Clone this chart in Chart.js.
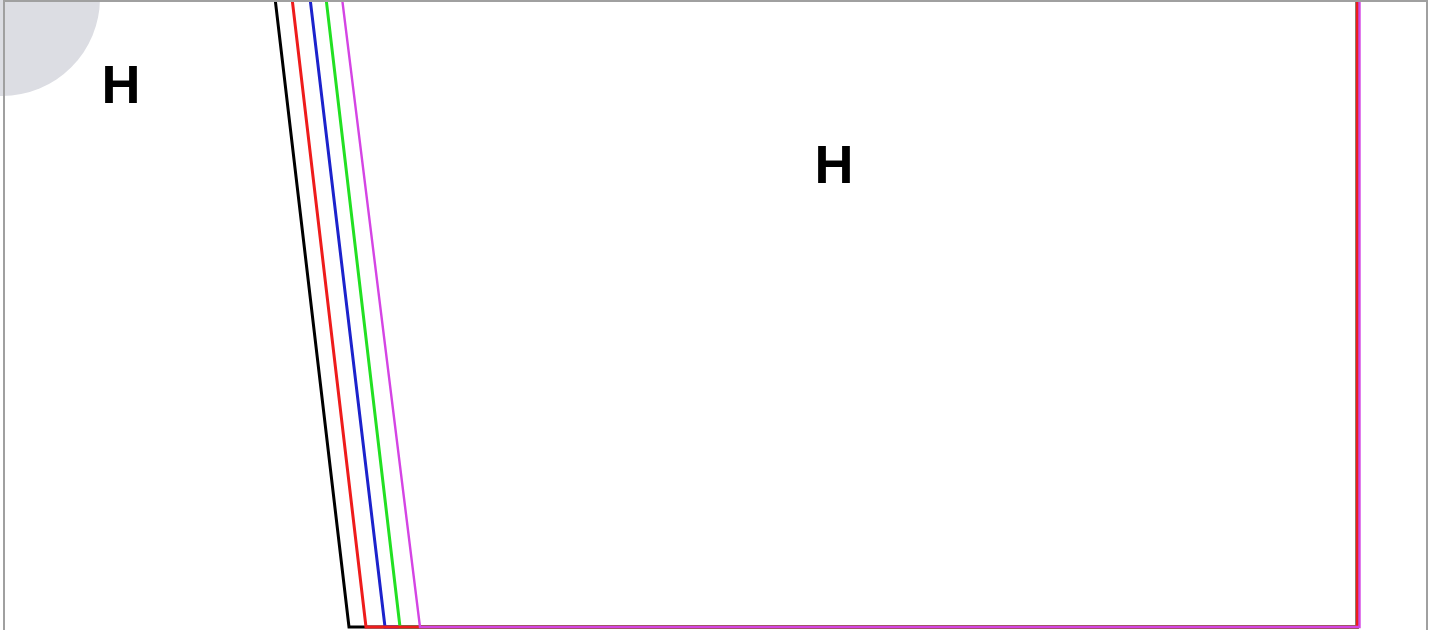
<!DOCTYPE html>
<html>
<head>
<meta charset="utf-8">
<script src="https://cdn.jsdelivr.net/npm/chart.js@4.4.0/dist/chart.umd.min.js"></script>
<style>
  html, body { margin: 0; padding: 0; background: #fff; overflow: hidden; }
  #wrap { position: absolute; left: 0; top: 0; width: 1432px; height: 630px; }
  #frame { position: absolute; left: 3px; top: 0px; width: 1425px; height: 640px;
           border: 2px solid #a0a0a0; box-sizing: border-box; pointer-events: none; z-index: 2; }
  canvas { position: absolute; left: 0; top: 0; }
</style>
</head>
<body>
<div id="wrap">
  <canvas id="c" width="1432" height="630"></canvas>
  <div id="frame"></div>
</div>
<script>
// Series names and colours
const seriesNames = ['magenta', 'red', 'green', 'blue', 'black'];
const seriesColors = ['#d444e4', '#ee1c1c', '#22e022', '#1c22cc', '#000000'];
const seriesWidths = [2.4, 3, 3, 3, 3];

// Each series: top crossing x, bottom corner x, bottom level y, right vertical x, top y
const topX    = [342, 292, 326, 310, 275];
const bottomX = [420, 366, 400, 385, 349];
const bottomY = [3, 3, 3, 3, 3];
const rightX  = [1359.5, 1357.2, 1357.2, 1357.2, 1357.2];
const topY    = [632, 632, 632, 632, 632];

// Grey disc
const discX = [2];
const discY = [632];
const discR = [98];

// Text labels
const labelText = ['H', 'H'];
const labelX = [121, 834];
const labelY = [527, 447];

const datasets = seriesNames.map((n, i) => ({
  label: n,
  type: 'line',
  data: [
    { x: topX[i], y: topY[i] },
    { x: bottomX[i], y: bottomY[i] },
    { x: rightX[i], y: bottomY[i] },
    { x: rightX[i], y: topY[i] }
  ],
  borderColor: seriesColors[i],
  borderWidth: seriesWidths[i],
  pointRadius: 0,
  fill: false,
  tension: 0,
  showLine: true
}));

datasets.push({
  label: 'disc',
  type: 'scatter',
  data: discX.map((x, i) => ({ x: x, y: discY[i] })),
  pointRadius: discR,
  pointBackgroundColor: '#dcdde3',
  pointBorderWidth: 0,
  pointBorderColor: 'rgba(0,0,0,0)',
  showLine: false
});

const textPlugin = {
  id: 'textLabels',
  afterDatasetsDraw(chart) {
    const ctx = chart.ctx;
    const xs = chart.scales.x, ys = chart.scales.y;
    ctx.save();
    ctx.fillStyle = '#000';
    ctx.font = 'bold 54px "Liberation Sans", Arial, sans-serif';
    ctx.textAlign = 'center';
    ctx.textBaseline = 'alphabetic';
    labelText.forEach((t, i) => {
      ctx.fillText(t, xs.getPixelForValue(labelX[i]), ys.getPixelForValue(labelY[i]));
    });
    ctx.restore();
  }
};

new Chart(document.getElementById('c'), {
  type: 'scatter',
  data: { datasets: datasets },
  options: {
    responsive: false,
    animation: false,
    devicePixelRatio: 1,
    layout: { padding: 0, autoPadding: false },
    plugins: { legend: { display: false }, tooltip: { enabled: false } },
    scales: {
      x: { type: 'linear', min: 0, max: 1432, display: false },
      y: { type: 'linear', min: 0, max: 630, display: false }
    }
  },
  plugins: [textPlugin]
});
</script>
</body>
</html>
